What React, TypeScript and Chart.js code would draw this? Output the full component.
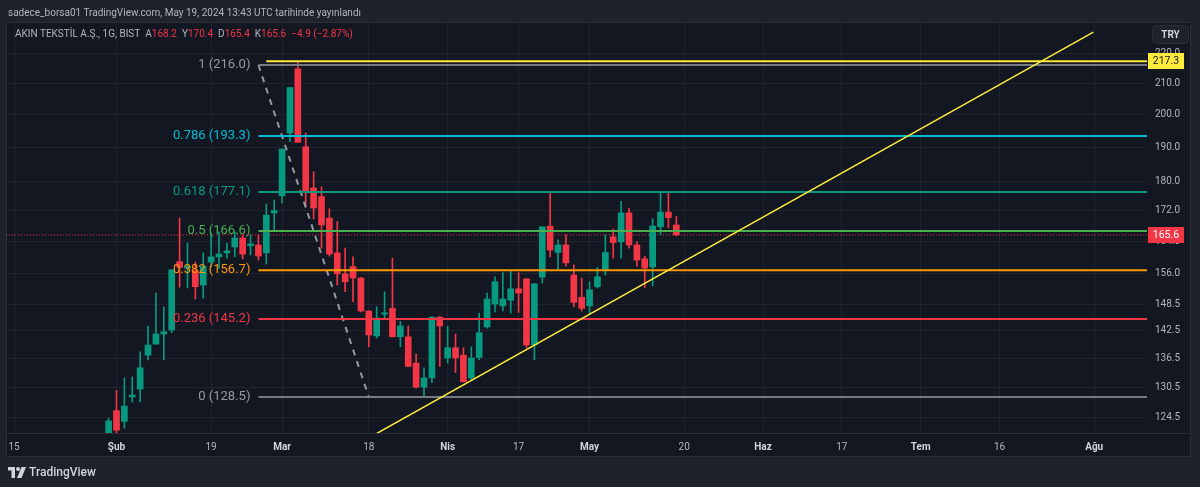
import React, { useEffect, useRef } from 'react';
import { Chart, registerables } from 'chart.js';

Chart.register(...registerables);

// ---- Data (daily candles, bar index counted from 15 Jan 2024 = 0) ----
const firstIndex = 12;
const opens = [121.3, 125.8, 123.7, 128.5, 130.1, 137.2, 139.6, 141.8, 142.7, 158.8, 157.2, 156.6, 153.1, 158.7, 160.0, 161.0, 162.5, 164.8, 162.8, 163.0, 161.0, 171.4, 176.0, 194.2, 214.7, 190.1, 178.2, 175.8, 170.0, 161.0, 155.8, 157.6, 154.8, 147.0, 141.4, 146.3, 147.6, 141.2, 141.2, 135.5, 130.5, 132.4, 145.6, 136.6, 138.8, 137.2, 132.4, 136.7, 143.4, 148.6, 148.2, 149.5, 152.2, 154.6, 139.4, 155.0, 167.9, 161.1, 163.0, 155.5, 150.2, 148.2, 152.7, 156.6, 165.1, 163.8, 171.4, 163.0, 159.5, 157.5, 167.7, 171.6, 168.2];
const highs = [124.3, 129.8, 132.4, 132.6, 137.9, 143.6, 151.2, 147.9, 156.8, 170.0, 163.5, 158.7, 161.0, 166.1, 166.4, 163.5, 166.4, 165.6, 165.6, 165.6, 173.8, 174.9, 189.4, 208.5, 217.3, 194.2, 182.8, 178.5, 172.5, 169.1, 162.2, 160.0, 154.9, 147.1, 148.0, 151.5, 159.7, 144.6, 143.6, 137.5, 134.5, 145.7, 145.7, 143.5, 141.8, 138.8, 139.0, 146.5, 151.2, 155.1, 156.1, 156.6, 156.1, 154.6, 153.4, 167.7, 177.1, 164.3, 165.6, 158.0, 154.8, 153.9, 157.4, 165.6, 167.1, 174.5, 172.7, 163.8, 160.2, 169.8, 177.2, 177.2, 170.4];
const lows = [120.5, 121.5, 122.4, 127.5, 127.5, 136.2, 139.6, 136.2, 142.1, 152.6, 152.4, 149.8, 150.0, 157.5, 157.2, 159.7, 160.0, 159.5, 160.5, 159.2, 158.2, 166.9, 174.1, 191.7, 191.4, 173.0, 169.8, 162.2, 160.2, 153.1, 151.5, 149.2, 146.8, 139.0, 140.9, 145.4, 141.2, 139.0, 134.8, 130.3, 128.5, 131.4, 134.8, 135.5, 133.5, 131.6, 132.0, 136.2, 143.1, 146.8, 147.0, 146.5, 146.7, 138.8, 136.2, 153.6, 160.0, 157.0, 157.7, 148.0, 147.0, 146.5, 152.4, 155.5, 159.7, 159.7, 162.2, 157.7, 152.4, 152.9, 165.6, 167.4, 165.4];
const closes = [123.8, 122.0, 126.7, 128.9, 134.5, 139.4, 141.8, 142.3, 156.8, 157.4, 157.7, 152.7, 157.7, 160.0, 160.7, 161.5, 164.8, 160.7, 163.3, 160.2, 170.8, 172.0, 189.4, 208.5, 191.4, 177.2, 172.7, 168.2, 160.7, 155.8, 153.9, 154.8, 147.0, 141.6, 145.4, 146.6, 141.2, 143.6, 134.8, 130.5, 132.4, 145.6, 143.6, 138.8, 136.6, 131.6, 136.6, 142.1, 149.8, 153.9, 149.8, 152.2, 151.2, 139.4, 153.4, 167.7, 161.7, 163.0, 158.5, 149.0, 147.6, 152.0, 155.1, 161.1, 163.6, 171.4, 163.0, 159.2, 157.2, 167.9, 171.6, 170.1, 165.6];

const xTickIndex = [0, 13, 25, 34, 45, 55, 64, 73, 85, 95, 105, 115, 125, 137];
const xTickLabels = ['15', 'Şub', '19', 'Mar', '18', 'Nis', '17', 'May', '20', 'Haz', '17', 'Tem', '16', 'Ağu'];
const monthLabels = ['Şub', 'Mar', 'Nis', 'May', 'Haz', 'Tem', 'Ağu'];
const yTicks = [124.5, 130.5, 136.5, 142.5, 148.5, 156.0, 164.0, 172.0, 180.0, 190.0, 200.0, 210.0, 220.0];

const fibRatios = ['1', '0.786', '0.618', '0.5', '0.382', '0.236', '0'];
const fibPrices = [216.0, 193.3, 177.1, 166.6, 156.7, 145.2, 128.5];
const fibColors = ['#787b86', '#00bcd4', '#089981', '#4caf50', '#ff9800', '#f23645', '#787b86'];
const fibStartIndex = 31;
const swingIndex = [31, 45];
const swingPrice = [216.0, 128.5];
const highLineIndex = 32;
const highLinePrice = 217.3;
const trendIndex = [45.9, 136.9];
const trendPrice = [121.3, 227.4];
const lastPrice = 165.6;

const xMin = -1.015;
const xMax = 143.7;
const yMin = 121.47;
const yMax = 230.67;

const GREEN = '#089981';
const RED = '#f23645';
const YELLOW = '#ffeb3b';
const GRID = 'rgba(42,46,57,0.55)';
const FONT = "Roboto, 'Noto Sans', sans-serif";

export default function App() {
  const ref = useRef<HTMLCanvasElement>(null);

  useEffect(() => {
    document.body.style.margin = '0';
    const idx = opens.map((_, i) => firstIndex + i);
    const colors = opens.map((o, i) => (closes[i] >= o ? GREEN : RED));
    const bodies = idx.map((x, i) => ({ x, y: [Math.min(opens[i], closes[i]), Math.max(opens[i], closes[i])] }));
    const wicks = idx.map((x, i) => ({ x, y: [lows[i], highs[i]] }));

    const lineDs = (data: any[], color: string, width: number, order: number, dash: number[] = []) => ({
      type: 'line',
      data,
      borderColor: color,
      borderWidth: width,
      borderDash: dash,
      pointRadius: 0,
      tension: 0,
      fill: false,
      order,
    });

    const datasets: any[] = [
      lineDs([{ x: xMin, y: lastPrice }, { x: xMax, y: lastPrice }], RED, 1, 5, [1, 2]),
      { type: 'bar', data: wicks, backgroundColor: colors, barThickness: 1, grouped: false, order: 4, borderWidth: 0 },
      { type: 'bar', data: bodies, backgroundColor: colors, barThickness: 6, grouped: false, order: 3, borderWidth: 0, minBarLength: 1 },
      ...fibPrices.map((p, i) => lineDs([{ x: fibStartIndex, y: p }, { x: xMax, y: p }], fibColors[i], 2, 1)),
      lineDs([{ x: highLineIndex, y: highLinePrice }, { x: xMax, y: highLinePrice }], YELLOW, 2, 1),
      lineDs(swingIndex.map((x, i) => ({ x, y: swingPrice[i] })), '#9598a1', 2, 1, [6, 6]),
      lineDs(trendIndex.map((x, i) => ({ x, y: trendPrice[i] })), YELLOW, 1.5, 0),
    ];

    const bgPlugin = {
      id: 'bgPanel',
      beforeDraw(chart: any) {
        const { ctx, chartArea } = chart;
        ctx.save();
        ctx.fillStyle = '#1e222d';
        ctx.fillRect(0, 0, chart.width, chart.height);
        ctx.fillStyle = '#131722';
        ctx.fillRect(6, 22, 1185, 435);
        ctx.strokeStyle = '#2a2e39';
        ctx.lineWidth = 1;
        ctx.strokeRect(6.5, 22.5, 1184, 434);
        ctx.beginPath();
        ctx.moveTo(6, Math.round(chartArea.bottom) + 0.5);
        ctx.lineTo(1191, Math.round(chartArea.bottom) + 0.5);
        ctx.stroke();
        ctx.restore();
      },
      afterDatasetsDraw(chart: any) {
        const { ctx, scales } = chart;
        ctx.save();
        ctx.font = `13px ${FONT}`;
        ctx.textAlign = 'right';
        ctx.textBaseline = 'middle';
        const x = scales.x.getPixelForValue(fibStartIndex) - 8;
        fibPrices.forEach((p, i) => {
          ctx.fillStyle = fibColors[i] === '#787b86' ? '#9598a1' : fibColors[i];
          ctx.fillText(`${fibRatios[i]} (${p.toFixed(1)})`, x, scales.y.getPixelForValue(p));
        });
        ctx.restore();
      },
      afterDraw(chart: any) {
        const { ctx, scales } = chart;
        ctx.save();
        const box = (price: number, bg: string, fg: string, h: number) => {
          const y = Math.round(scales.y.getPixelForValue(price));
          ctx.fillStyle = bg;
          ctx.fillRect(1148, y - h / 2, 36, h);
          ctx.fillStyle = fg;
          ctx.font = `10.5px ${FONT}`;
          ctx.textAlign = 'center';
          ctx.textBaseline = 'middle';
          ctx.fillText(price.toFixed(1), 1166, y + 0.5);
        };
        box(highLinePrice, YELLOW, '#131722', 16);
        box(lastPrice, RED, '#ffffff', 16);
        // currency button
        ctx.beginPath();
        (ctx as any).roundRect(1152.5, 25.5, 36, 18, 4);
        ctx.fillStyle = '#1e222d';
        ctx.fill();
        ctx.strokeStyle = '#2a2e39';
        ctx.stroke();
        ctx.fillStyle = '#d1d4dc';
        ctx.font = `bold 10px ${FONT}`;
        ctx.textAlign = 'center';
        ctx.textBaseline = 'middle';
        ctx.fillText('TRY', 1170.5, 35);
        ctx.restore();
      },
    };

    const chart = new Chart(ref.current as HTMLCanvasElement, {
      type: 'bar',
      data: { datasets },
      plugins: [bgPlugin],
      options: {
        responsive: false,
        animation: false,
        devicePixelRatio: 1,
        layout: { padding: { left: 6, top: 23, right: 9, bottom: 30 } },
        plugins: { legend: { display: false }, tooltip: { enabled: false } },
        scales: {
          x: {
            type: 'linear',
            min: xMin,
            max: xMax,
            offset: false,
            afterBuildTicks: (s: any) => {
              s.ticks = xTickIndex.map((v) => ({ value: v }));
            },
            afterFit: (s: any) => {
              s.height = 24;
              s.paddingLeft = 0;
              s.paddingRight = 0;
            },
            ticks: {
              autoSkip: false,
              maxRotation: 0,
              minRotation: 0,
              padding: 8,
              callback: (_v: any, i: number) => xTickLabels[i],
              color: (c: any) => (monthLabels.includes(xTickLabels[c.index]) ? '#d1d4dc' : '#b2b5be'),
              font: (c: any) => ({
                family: FONT,
                size: 10,
                weight: monthLabels.includes(xTickLabels[c.index]) ? 'bold' : 'normal',
              }),
            },
            grid: { color: GRID, drawTicks: false, offset: false },
            border: { display: false },
          },
          y: {
            type: 'logarithmic',
            position: 'right',
            min: yMin,
            max: yMax,
            afterBuildTicks: (s: any) => {
              s.ticks = yTicks.map((v) => ({ value: v }));
            },
            afterFit: (s: any) => {
              s.width = 44;
              s.paddingTop = 0;
              s.paddingBottom = 0;
            },
            ticks: {
              autoSkip: false,
              padding: 8,
              color: '#b2b5be',
              font: { family: FONT, size: 10 },
              callback: (v: any) => Number(v).toFixed(1),
            },
            grid: { color: GRID, drawTicks: false },
            border: { display: false },
          },
        },
      } as any,
    });
    return () => chart.destroy();
  }, []);

  const legendItems: [string, string][] = [
    ['A', '168.2'],
    ['Y', '170.4'],
    ['D', '165.4'],
    ['K', '165.6'],
  ];

  return (
    <div style={{ position: 'fixed', left: 0, top: 0, width: 1200, height: 487, overflow: 'hidden', fontFamily: FONT }}>
      <canvas ref={ref} width={1200} height={487} style={{ display: 'block', width: 1200, height: 487 }} />
      <div style={{ position: 'absolute', left: 8, top: 5, fontSize: 10, lineHeight: '16px', color: '#b2b5be', whiteSpace: 'nowrap' }}>
        sadece_borsa01 TradingView.com, May 19, 2024 13:43 UTC tarihinde yayınlandı
      </div>
      <div style={{ position: 'absolute', left: 15, top: 27, fontSize: 10, lineHeight: '14px', color: '#b2b5be', whiteSpace: 'nowrap' }}>
        <span>AKIN TEKSTİL A.Ş., 1G, BIST</span>
        {legendItems.map(([k, v]) => (
          <span key={k} style={{ marginLeft: 5 }}>
            {k}
            <span style={{ color: RED }}>{v}</span>
          </span>
        ))}
        <span style={{ marginLeft: 5, color: RED }}>−4.9 (−2.87%)</span>
      </div>
      <div style={{ position: 'absolute', left: 8, top: 465, display: 'flex', alignItems: 'center', color: '#d1d4dc', fontSize: 12, fontWeight: 500 }}>
        <svg width="18" height="11" viewBox="0 0 36 22" style={{ marginRight: 3 }}>
          <path d="M0 0 H14 V22 H7 V7 H0 Z" fill="#d1d4dc" />
          <circle cx="20" cy="4" r="4" fill="#d1d4dc" />
          <path d="M27 0 H36 L27 22 H18 Z" fill="#d1d4dc" />
        </svg>
        <span>TradingView</span>
      </div>
    </div>
  );
}
